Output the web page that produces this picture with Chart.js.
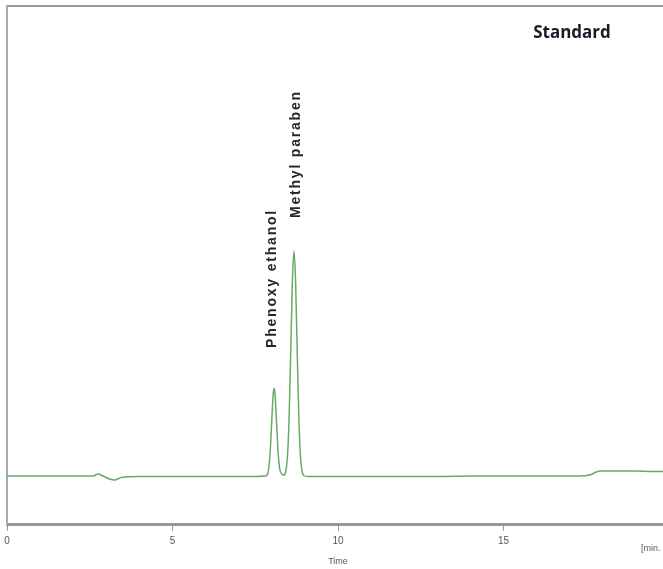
<!DOCTYPE html>
<html>
<head>
<meta charset="utf-8">
<script src="https://cdn.jsdelivr.net/npm/chart.js@4.4.1/dist/chart.umd.min.js"></script>
<style>
  html, body { margin: 0; padding: 0; background: #fff; overflow: hidden; }
  #wrap { position: relative; width: 700px; height: 569px; }
</style>
</head>
<body>
<div id="wrap"><canvas id="chrom-chart" width="700" height="569"></canvas></div>
<script>
// retention time (min) and detector signal (arbitrary units)
const times = [0, 1, 2, 2.6, 2.75, 2.9, 3.1, 3.25, 3.45, 4, 5, 6, 7, 7.5, 7.8,
  7.85, 7.9, 7.95, 8.0, 8.04, 8.07, 8.1, 8.14, 8.19, 8.24, 8.3, 8.37,
  8.42, 8.47, 8.52, 8.57, 8.62, 8.67, 8.72, 8.77, 8.82, 8.87, 8.92, 8.97,
  9.1, 10, 11, 12, 13, 14, 15, 16, 17, 17.5, 17.65, 17.8, 17.95, 18.5, 19, 19.5, 20];
const signal = [48, 48, 48, 48, 50, 48, 45, 44, 46.5, 47.5, 47.5, 47.5, 47.5, 47.5, 48,
  48.5, 54, 72, 104, 129, 136, 129, 104, 72, 55, 50, 49,
  52, 66, 103, 169, 241, 273, 241, 169, 103, 66, 52, 48.5,
  47.5, 47.5, 47.5, 47.5, 47.5, 48, 48, 48, 48, 48.5, 49.5, 52, 53, 53, 53, 52.5, 52.5];

const xTicks = [0, 5, 10, 15, 20];
const peakNames = ['Phenoxy ethanol', 'Methyl paraben'];
const peakTimes = [8.02, 8.74];
const labelStart = [176, 306];
const sampleTitle = 'Standard';

const points = times.map((t, i) => ({ x: t, y: signal[i] }));

const textPlugin = {
  id: 'chromText',
  afterDraw(chart) {
    const c = chart.ctx;
    const xs = chart.scales.x;
    const ys = chart.scales.y;
    c.save();
    c.fillStyle = '#262626';
    c.font = 'bold 14px "Liberation Sans", Arial, sans-serif';
    c.letterSpacing = '1.8px';
    c.textAlign = 'left';
    c.textBaseline = 'middle';
    peakNames.forEach((name, i) => {
      c.save();
      c.translate(xs.getPixelForValue(peakTimes[i]), ys.getPixelForValue(labelStart[i]));
      c.rotate(-Math.PI / 2);
      c.fillText(name, 0, 0);
      c.restore();
    });
    c.letterSpacing = '0px';
    c.fillStyle = '#1b1b28';
    c.font = 'bold 17px "Open Sans", Lato, sans-serif';
    c.textAlign = 'center';
    c.fillText(sampleTitle, 572, 33);
    c.fillStyle = '#555';
    c.font = '9px "Liberation Sans Narrow", "Liberation Sans", sans-serif';
    c.textAlign = 'left';
    c.fillText('[min.', 641, 549);
    c.restore();
  }
};

new Chart(document.getElementById('chrom-chart'), {
  type: 'line',
  data: {
    datasets: [{
      data: points,
      borderColor: '#6aa86a',
      borderWidth: 1.5,
      pointRadius: 0,
      tension: 0.35,
      cubicInterpolationMode: 'monotone',
      fill: false
    }]
  },
  options: {
    responsive: false,
    animation: false,
    devicePixelRatio: 1,
    layout: { padding: { left: 0, right: 31, top: 0, bottom: 0 } },
    plugins: { legend: { display: false }, tooltip: { enabled: false } },
    scales: {
      x: {
        type: 'linear',
        min: 0,
        max: 20,
        afterFit: (s) => { s.height = 45; },
        afterBuildTicks: (s) => { s.ticks = xTicks.map(v => ({ value: v })); },
        grid: { drawOnChartArea: false, tickLength: 7, color: '#999', lineWidth: 1 },
        border: { display: true, color: '#999', width: 3 },
        ticks: {
          color: '#555',
          padding: 4,
          maxRotation: 0,
          font: { family: '"Liberation Sans Narrow", "Liberation Sans", sans-serif', size: 10 }
        },
        title: {
          display: true,
          text: 'Time',
          color: '#555',
          padding: { top: 4, bottom: 2 },
          font: { family: '"Liberation Sans Narrow", "Liberation Sans", sans-serif', size: 9 }
        }
      },
      xTop: {
        type: 'linear',
        position: 'top',
        min: 0,
        max: 20,
        afterFit: (s) => { s.height = 6; },
        grid: { display: false },
        ticks: { display: false },
        border: { display: true, color: '#999', width: 2 }
      },
      y: {
        min: 0,
        max: 518,
        afterFit: (s) => { s.width = 7; },
        grid: { display: false },
        ticks: { display: false },
        border: { display: true, color: '#aaa', width: 2 }
      }
    }
  },
  plugins: [textPlugin]
});
</script>
</body>
</html>
